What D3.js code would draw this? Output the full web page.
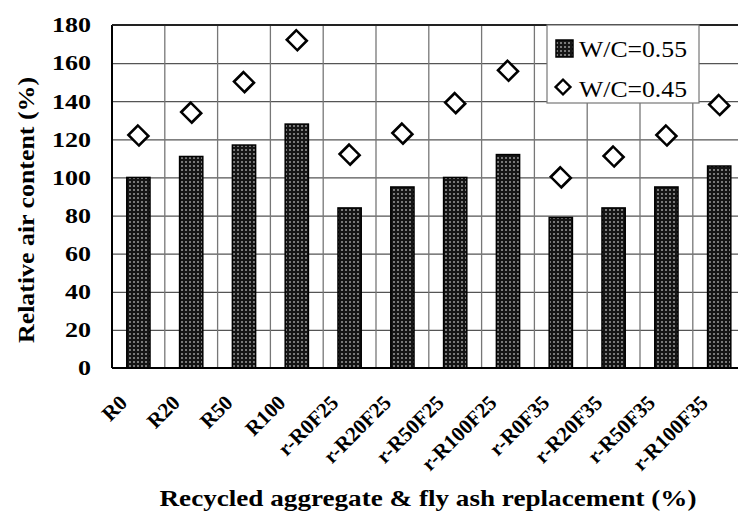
<!DOCTYPE html>
<html lang="en">
<head>
<meta charset="UTF-8">
<title>Relative air content</title>
<script src="https://d3js.org/d3.v7.min.js"></script>
<style>
    body { margin: 0; background: #fff; }
    text { font-family: "Liberation Serif", "Times New Roman", serif; }
    .tick-label { font-weight: bold; font-size: 21px; }
    .grid line { stroke: #555; stroke-width: 1.3px; }
</style>
</head>
<body>
<svg id="chart" width="738" height="512"></svg>
<script>
// data
const categories = ['R0', 'R20', 'R50', 'R100', 'r-R0F25', 'r-R20F25', 'r-R50F25', 'r-R100F25',
    'r-R0F35', 'r-R20F35', 'r-R50F35', 'r-R100F35'];
const wc055 = [100, 111, 117, 128, 84, 95, 100, 112, 79, 84, 95, 106];
const wc045 = [122, 134, 150, 172, 112, 123, 139, 156, 100, 111, 122, 138];
const yTicks = [0, 20, 40, 60, 80, 100, 120, 140, 160, 180];
const seriesNames = ['W/C=0.55', 'W/C=0.45'];

const svg = d3.select('#chart');
const plotLeft = 112, plotTop = 25, plotBottom = 368;
const plotW = 12 * 52.8;

const x = d3.scaleBand().domain(categories).range([plotLeft, plotLeft + plotW]).padding(0);
const y = d3.scaleLinear().domain([0, 180]).range([plotBottom, plotTop]);

// dotted fill for the bars
const pat = svg.append('defs').append('pattern')
    .attr('id', 'dots')
    .attr('patternUnits', 'userSpaceOnUse')
    .attr('width', 4).attr('height', 4);
pat.append('rect').attr('width', 4).attr('height', 4).attr('fill', '#151515');
pat.append('circle').attr('cx', 2).attr('cy', 2).attr('r', 1).attr('fill', '#9a9a9a');

// horizontal grid
svg.append('g')
    .attr('class', 'grid')
    .attr('transform', `translate(${plotLeft},0)`)
    .call(d3.axisLeft(y).tickValues(yTicks.slice(1, -1)).tickSize(-plotW).tickFormat(''))
    .call(g => g.select('.domain').remove());

// vertical grid at category boundaries
svg.append('g')
    .attr('class', 'grid')
    .selectAll('line')
    .data(categories.slice(1))
    .join('line')
    .attr('x1', d => x(d)).attr('x2', d => x(d))
    .attr('y1', plotTop).attr('y2', plotBottom)
    .style('stroke', '#777');

// bars
const bw = x.bandwidth() * 0.44;
svg.append('g')
    .selectAll('rect')
    .data(wc055)
    .join('rect')
    .attr('x', (d, i) => x(categories[i]) + x.bandwidth() / 2 - bw / 2)
    .attr('y', d => y(d))
    .attr('width', bw)
    .attr('height', d => plotBottom - y(d))
    .attr('fill', 'url(#dots)')
    .attr('stroke', '#000')
    .attr('stroke-width', 1.5);

// diamonds
const diamond = d3.symbol().type(d3.symbolSquare).size(200);
svg.append('g')
    .selectAll('path')
    .data(wc045)
    .join('path')
    .attr('d', diamond)
    .attr('transform', (d, i) => `translate(${x(categories[i]) + x.bandwidth() / 2},${y(d)}) rotate(45) scale(1.05,0.95)`)
    .attr('fill', '#fff')
    .attr('stroke', '#000')
    .attr('stroke-width', 2.6);

// frame
svg.append('line').attr('x1', plotLeft).attr('x2', plotLeft).attr('y1', plotTop).attr('y2', plotBottom)
    .attr('stroke', '#000').attr('stroke-width', 2);
svg.append('line').attr('x1', plotLeft).attr('x2', 738).attr('y1', plotBottom).attr('y2', plotBottom)
    .attr('stroke', '#000').attr('stroke-width', 2);
svg.append('line').attr('x1', plotLeft).attr('x2', 738).attr('y1', plotTop).attr('y2', plotTop)
    .attr('stroke', '#222').attr('stroke-width', 2);

// y tick labels
svg.append('g')
    .selectAll('text')
    .data(yTicks)
    .join('text')
    .attr('class', 'tick-label')
    .attr('x', 91)
    .attr('y', d => y(d))
    .attr('dy', '0.35em')
    .attr('text-anchor', 'end')
    .attr('textLength', d => String(d).length * 13)
    .attr('lengthAdjust', 'spacingAndGlyphs')
    .text(d => d);

// x tick labels, rotated
svg.append('g')
    .selectAll('text')
    .data(categories)
    .join('text')
    .attr('class', 'tick-label')
    .style('font-size', '21px')
    .attr('text-anchor', 'end')
    .attr('transform', d => `translate(${x(d) + x.bandwidth() / 2 - 10},${plotBottom + 36}) rotate(-45)`)
    .text(d => d);

// axis titles
svg.append('text')
    .attr('x', 428).attr('y', 506)
    .attr('text-anchor', 'middle')
    .attr('textLength', 537).attr('lengthAdjust', 'spacingAndGlyphs')
    .style('font-weight', 'bold').style('font-size', '23px')
    .text('Recycled aggregate & fly ash replacement (%)');

svg.append('text')
    .attr('transform', 'translate(34,210) rotate(-90)')
    .attr('text-anchor', 'middle')
    .attr('textLength', 266).attr('lengthAdjust', 'spacingAndGlyphs')
    .style('font-weight', 'bold').style('font-size', '23px')
    .text('Relative air content (%)');

// legend
const lg = svg.append('g').attr('transform', 'translate(547,25)');
lg.append('rect').attr('width', 152).attr('height', 78)
    .attr('fill', '#fff').attr('stroke', '#777').attr('stroke-width', 1.2);
lg.append('rect').attr('x', 9).attr('y', 15).attr('width', 17).attr('height', 17)
    .attr('fill', 'url(#dots)').attr('stroke', '#000').attr('stroke-width', 1.5);
lg.append('path').attr('d', d3.symbol().type(d3.symbolSquare).size(110))
    .attr('transform', 'translate(16,62) rotate(45)')
    .attr('fill', '#fff').attr('stroke', '#000').attr('stroke-width', 2.4);
lg.selectAll('text.lg')
    .data(seriesNames)
    .join('text')
    .attr('class', 'lg')
    .attr('x', 32)
    .attr('y', (d, i) => 32 + i * 40)
    .attr('textLength', 108).attr('lengthAdjust', 'spacingAndGlyphs')
    .style('font-size', '23px')
    .text(d => d);
</script>
</body>
</html>
